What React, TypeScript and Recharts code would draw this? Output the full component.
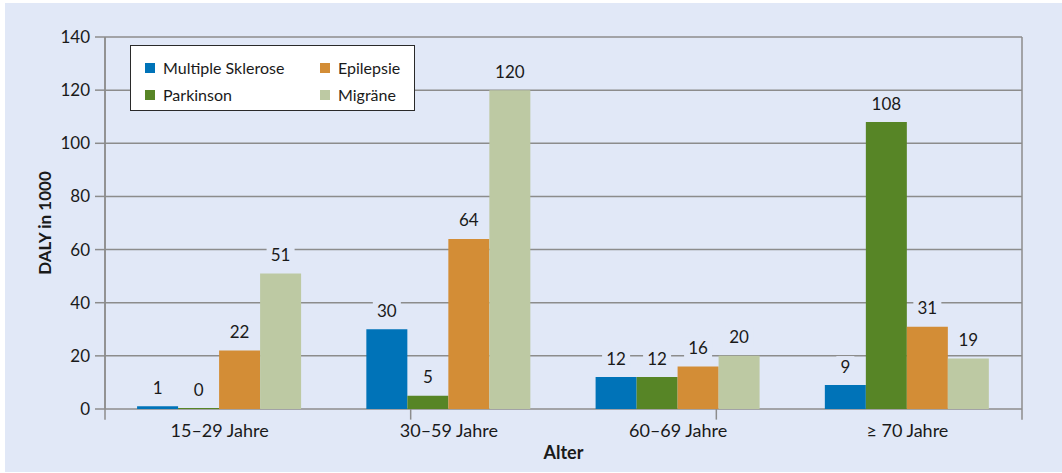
import { BarChart, Bar, XAxis, YAxis, CartesianGrid, Legend, LabelList, Label, ReferenceLine } from 'recharts';

const ageGroups = ['15–29 Jahre', '30–59 Jahre', '60–69 Jahre', '≥ 70 Jahre'];
const multipleSklerose = [1, 30, 12, 9];
const parkinson = [0, 5, 12, 108];
const epilepsie = [22, 64, 16, 31];
const migraene = [51, 120, 20, 19];
const yTicks = [0, 20, 40, 60, 80, 100, 120, 140];
const boundaryTicks = [0, 1, 2, 3, 4];

const BG = '#e1e8f7';
const GRID = '#8c8c8c';
const TEXT = '#1a1a1a';
const FONT = 'Lato, "Open Sans", sans-serif';

const series = [
  { key: 'ms', name: 'Multiple Sklerose', color: '#0073b8' },
  { key: 'parkinson', name: 'Parkinson', color: '#578526' },
  { key: 'epilepsie', name: 'Epilepsie', color: '#d38d36' },
  { key: 'migraene', name: 'Migräne', color: '#bdc9a3' },
];

// legend is laid out row by row: MS | Epilepsie / Parkinson | Migräne
const legendOrder = ['ms', 'epilepsie', 'parkinson', 'migraene'];

const data = ageGroups.map((age, i) => ({
  age,
  ms: multipleSklerose[i],
  parkinson: parkinson[i],
  epilepsie: epilepsie[i],
  migraene: migraene[i],
}));

// eslint-disable-next-line @typescript-eslint/no-explicit-any
function ValueLabel(props: any) {
  const { x, y, width, value } = props;
  const cx = Number(x) + Number(width) / 2;
  const cy = Number(y) - 19;
  const w = String(value).length * 10 + 8;
  return (
    <g>
      <rect x={cx - w / 2} y={cy - 10} width={w} height={20} fill={BG} />
      <text x={cx} y={cy} textAnchor="middle" dominantBaseline="central" fill={TEXT} fontSize={17} fontFamily={FONT}>
        {value}
      </text>
    </g>
  );
}

function LegendBox() {
  return (
    <div
      style={{
        boxSizing: 'border-box',
        width: 285,
        height: 66,
        background: '#fff',
        border: '1px solid #2a2a2a',
        padding: '8px 0 0 14px',
        display: 'grid',
        gridTemplateColumns: '175px auto',
        gridAutoRows: '27px',
        fontFamily: FONT,
        fontSize: 16,
        color: TEXT,
        textAlign: 'left',
      }}
    >
      {legendOrder.map((k) => {
        const s = series.find((d) => d.key === k)!;
        return (
          <div key={k} style={{ display: 'flex', alignItems: 'center' }}>
            <span style={{ width: 10, height: 10, background: s.color, marginRight: 8, display: 'inline-block' }} />
            <span>{s.name}</span>
          </div>
        );
      })}
    </div>
  );
}

export default function App() {
  return (
    <div style={{ position: 'absolute', left: 0, top: 0, width: 1062, height: 473, background: '#fff' }}>
      <div style={{ position: 'absolute', left: 5, top: 3, width: 1057, height: 469, background: BG }}>
        <BarChart
          width={1057}
          height={469}
          data={data}
          margin={{ top: 34, right: 40, bottom: 8, left: 25 }}
          barCategoryGap="14%"
          barGap={0}
          style={{ fontFamily: FONT }}
        >
          {/* boundary axis: draws the axis line and the category separators */}
          <XAxis
            xAxisId="num"
            type="number"
            domain={[0, 4]}
            allowDataOverflow
            ticks={boundaryTicks}
            interval={0}
            tick={false}
            tickLine={false}
            height={0}
            stroke={GRID}
            strokeWidth={1.5}
          />
          <XAxis
            xAxisId="cat"
            dataKey="age"
            axisLine={false}
            tickLine={false}
            tickSize={0}
            tickMargin={15}
            height={55}
            interval={0}
            tick={{ fill: TEXT, fontSize: 18 }}
          >
            <Label value="Alter" position="insideBottom" offset={5} fill={TEXT} fontSize={18} fontWeight="bold" />
          </XAxis>
          <YAxis
            domain={[0, 140]}
            ticks={yTicks}
            interval={0}
            width={75}
            tickSize={10}
            tickMargin={5}
            stroke={GRID}
            strokeWidth={1.5}
            tick={{ fill: TEXT, fontSize: 17 }}
          >
            <Label
              value="DALY in 1000"
              angle={-90}
              position="insideLeft"
              offset={15}
              textAnchor="middle"
              fill={TEXT}
              fontSize={17}
              fontWeight="bold"
            />
          </YAxis>
          <CartesianGrid xAxisId="num" stroke={GRID} strokeWidth={1.5} />
          {/* small tick marks below the axis at each category boundary */}
          {boundaryTicks.map((b) => (
            <ReferenceLine
              key={b}
              xAxisId="num"
              segment={[{ x: b, y: -4 }, { x: b, y: 0 }]}
              ifOverflow="visible"
              stroke={GRID}
              strokeWidth={1.5}
            />
          ))}
          <Legend
            layout="vertical"
            align="center"
            verticalAlign="middle"
            content={<LegendBox />}
            wrapperStyle={{ left: 125, top: 42, width: 285 }}
          />
          {series.map((s) => (
            <Bar
              key={s.key}
              xAxisId="cat"
              dataKey={s.key}
              name={s.name}
              fill={s.color}
              minPointSize={1}
              isAnimationActive={false}
            >
              <LabelList dataKey={s.key} content={<ValueLabel />} />
            </Bar>
          ))}
        </BarChart>
      </div>
    </div>
  );
}
